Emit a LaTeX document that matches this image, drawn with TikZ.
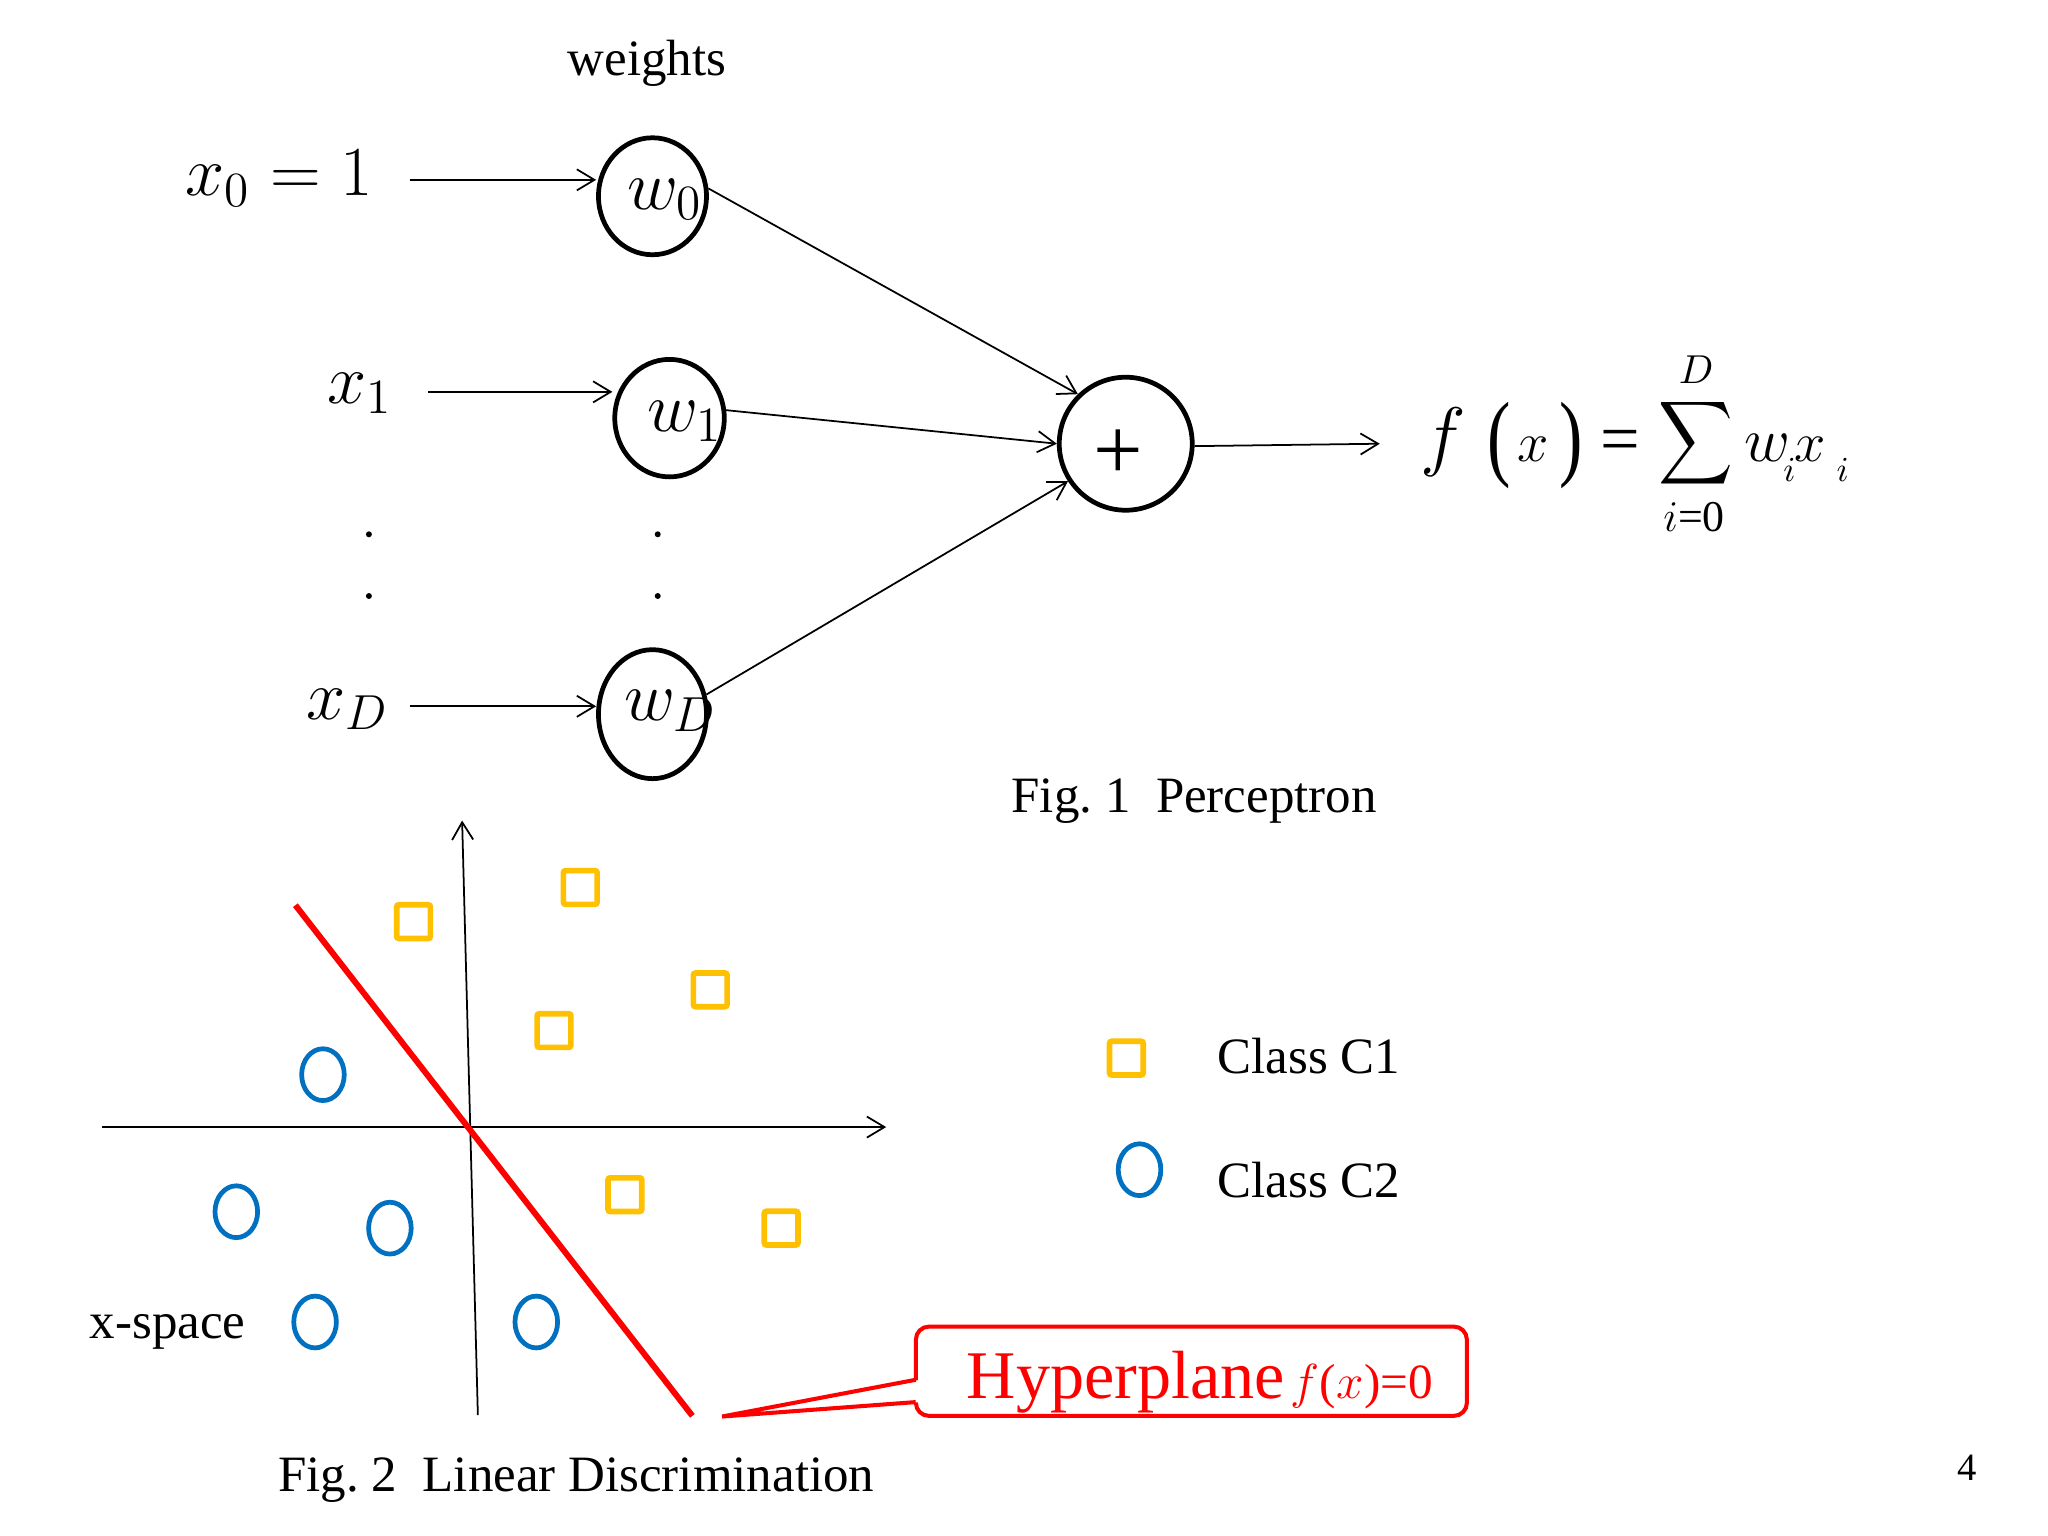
\RequirePackage{fix-cm}
\documentclass[tikz,border=0pt]{standalone}
\usepackage[no-math]{fontspec}
\setmainfont{Liberation Serif}
\usepackage{graphicx}
\usetikzlibrary{shapes.geometric,arrows.meta}
\definecolor{cyel}{HTML}{FFC000}
\definecolor{cblue}{HTML}{0070C0}
\definecolor{cred}{HTML}{FF0000}
\newcommand{\fsz}[1]{\fontsize{#1}{#1}\selectfont}
\begin{document}
\begin{tikzpicture}[x=0.13128mm,y=-0.13128mm,
  wnode/.style={ellipse,draw,line width=1.35pt,inner sep=0pt,minimum width=10.8mm,minimum height=11.7mm},
  arr/.style={line width=0.5pt,-{Straight Barb[length=5pt,width=6pt]}},
  lbl/.style={inner sep=0pt,anchor=base west,font=\fsz{14.5}},
  mlbl/.style={inner sep=0pt,anchor=base west,font=\fsz{20}},
  fpart/.style={inner sep=0pt,anchor=base},
  cone/.style={rectangle,draw=cyel,line width=1.6pt,minimum size=3.37mm,inner sep=0pt,rounded corners=0.6pt},
  ctwo/.style={ellipse,draw=cblue,line width=1.35pt,minimum width=4.26mm,minimum height=5.18mm,inner sep=0pt},
  dotnode/.style={circle,fill=black,inner sep=0pt,minimum size=1.7pt}]
\useasboundingbox (0,0) rectangle (1560,1170);

% ---------- Fig. 1 : perceptron ----------
\node[lbl] (weights) at (432,57.5) {weights};

\node[wnode] (w0) at (497,149.5) {};
\node[wnode,minimum width=10.95mm,minimum height=11.75mm] (w1) at (510,318.5) {};
\node[wnode,minimum height=12.9mm] (wD) at (497,544) {};
\node[circle,draw,line width=1.35pt,inner sep=0pt,minimum size=13.3mm] (sum) at (857.5,338) {};
\node[inner sep=0pt,font=\fsz{25}] (plus) at (852,346.6) {+};

\node[mlbl] (w0t) at (477.6,159.4) {$w_0$};
\node[mlbl] (w1t) at (492.6,328.4) {$w_1$};
\node[mlbl] (wDt) at (475,549) {$w_D$};

\node[mlbl] (x0) at (141,149) {$x_0 = 1$};
\node[mlbl] (x1) at (248.8,307) {$x_1$};
\node[mlbl] (xD) at (232.8,548) {$x_D$};

\coordinate (in0) at (312,137);
\coordinate (in1) at (326,298.5);
\coordinate (inD) at (312,538);
\draw[arr] (in0) -- (in0 -| w0.west);
\draw[arr] (in1) -- (in1 -| w1.west);
\draw[arr] (inD) -- (inD -| wD.west);

\draw[arr] (w0.8) -- (sum.134);
\draw[arr] (w1.8) -- (sum.180);
\draw[arr] (wD.20) -- (sum.213);
\coordinate (outp) at (1051,338);
\draw[arr] (sum.-2) -- (outp);

\node[dotnode] (d1) at (281,407) {};
\node[dotnode] (d2) at (281,454) {};
\node[dotnode] (d3) at (501,407) {};
\node[dotnode] (d4) at (501,454) {};

% formula f(x) = sum w_i x_i
\node[fpart,font=\fsz{22}] (ff) at (1099,351.7) {$f$};
\node[inner sep=0pt,font=\fsz{20}] (lp) at (1142,339) {\scalebox{1}[1.36]{(}};
\node[fpart,font=\fsz{16}] (fx1) at (1168,351.7) {$x$};
\node[inner sep=0pt,font=\fsz{20}] (rp) at (1196.5,339) {\scalebox{1}[1.36]{)}};
\node[fpart,font=\fsz{20}] (feq) at (1234,352) {=};
\node[inner sep=0pt] (fsum) at (1291.5,337.5) {\resizebox*{21.3pt}{26.5pt}{$\displaystyle\sum$}};
\node[fpart,font=\fsz{11.5}] (fD) at (1292,292) {$D$};
\node[fpart,font=\fsz{12.5}] (fi0) at (1290.5,405) {$i$=0};
\node[fpart,font=\fsz{18}] (fw) at (1346,351.7) {$w$};
\node[fpart,font=\fsz{10}] (fwi) at (1363,367) {$i$};
\node[fpart,font=\fsz{16}] (fx2) at (1379,351.7) {$x$};
\node[fpart,font=\fsz{10}] (fxi) at (1403.5,367) {$i$};

\node[lbl] (cap1) at (770,619) {Fig.\ 1\hspace{0.5em}Perceptron};

% ---------- Fig. 2 : linear discrimination ----------
\coordinate (vb) at (364,1078);
\coordinate (vt) at (352,625);
\coordinate (hl) at (78,858.5);
\coordinate (hr) at (675,858.5);
\draw[arr] (vb) -- (vt);
\draw[arr] (hl) -- (hr);

\coordinate (ra) at (225,689.5);
\coordinate (rb) at (527.4,1078.5);
\draw[cred,line width=1.7pt] (ra) -- (rb);

\node[cone] (sqA) at (315,702) {};
\node[cone] (sqB) at (442,676) {};
\node[cone] (sqC) at (541,754) {};
\node[cone] (sqD) at (422,785) {};
\node[cone] (sqE) at (476,910) {};
\node[cone] (sqF) at (595,935.5) {};

\node[ctwo] (ciA) at (246,818.6) {};
\node[ctwo] (ciB) at (180,923) {};
\node[ctwo] (ciC) at (297,935.5) {};
\node[ctwo] (ciD) at (240,1007) {};
\node[ctwo] (ciE) at (408.5,1007) {};

\node[cone] (lsq) at (858,806) {};
\node[ctwo] (lci) at (868,891) {};
\node[lbl] (lc1) at (927,818) {Class C1};
\node[lbl] (lc2) at (927,912) {Class C2};

\node[lbl] (xsp) at (68,1019.6) {x-space};

% callout
\node[draw=cred,line width=1.15pt,rounded corners=3.7pt,minimum width=55.1mm,minimum height=8.93mm,inner sep=0pt] (hyp) at (907.5,1044.5) {};
\coordinate (tip) at (550,1079);
\coordinate (pj1) at (697.5,1051);
\coordinate (pj2) at (697.5,1068);
\coordinate (pk1) at (701,1051);
\coordinate (pk2) at (701,1068);
\fill[white] (tip) -- (pk1) -- (pk2) -- cycle;
\draw[cred,line width=1.15pt] (pj1) -- (tip) -- (pj2);
\node[inner sep=0pt,anchor=base west,text=cred] (hyptxt) at (736,1065)
  {{\fsz{19.4}Hyperplane}\kern1.5pt{\fsz{14}$f$(\kern0.3pt$x$)=0}};

\node[lbl] (cap2) at (211.5,1136) {Fig.\ 2\hspace{0.5em}Linear Discrimination};

\node[inner sep=0pt,anchor=base west,font=\fsz{11}] (pg) at (1490.5,1127.8) {4};
\end{tikzpicture}
\end{document}
